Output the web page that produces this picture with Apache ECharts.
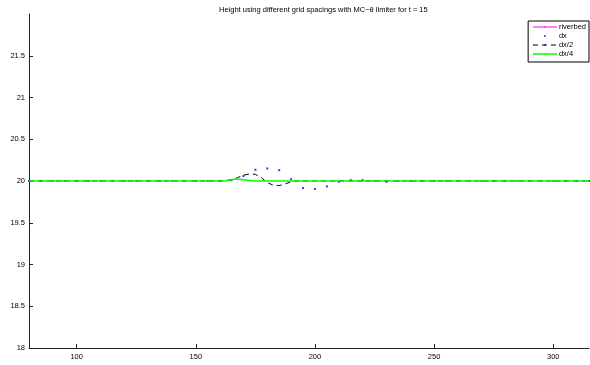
<!DOCTYPE html>
<html><head><meta charset="utf-8">
<script src="https://cdn.jsdelivr.net/npm/echarts@6/dist/echarts.min.js"></script>
<style>html,body{margin:0;padding:0;background:#fff}#c{width:590px;height:365px}</style>
</head><body><div id="c"></div>
<script>
const titleText = 'Height using different grid spacings with MC\u2212\u03b8 limiter for t = 15';
const seriesNames = ['riverbed', 'dx', 'dx/2', 'dx/4'];
const xTicks = [100, 150, 200, 250, 300];
const yTicks = [18, 18.5, 19, 19.5, 20, 20.5, 21, 21.5];

const riverbedX = [80, 315];
const riverbedY = [0, 0];

const dxX = [80,85,90,95,100,105,110,115,120,125,130,135,140,145,150,155,160,165,170,175,180,185,190,195,200,205,210,215,220,225,230,235,240,245,250,255,260,265,270,275,280,285,290,295,300,305,310,315];
const dxY = [20,20,20,20,20,20,20,20,20,20,20,20,20,20,20,20,20,20.01,20.06,20.135,20.15,20.13,20.02,19.915,19.905,19.935,19.99,20.01,20.01,20,19.99,20,20,20,20,20,20,20,20,20,20,20,20,20,20,20,20,20];

const dx2X = [80,160,162.5,165,167.5,170,172.5,175,177.5,180,182.5,185,187.5,190,192.5,195,197.5,200,315];
const dx2Y = [20,20,20.005,20.015,20.04,20.07,20.085,20.08,20.04,19.98,19.95,19.945,19.965,19.99,20.0,20.003,20,20,20];

const dx4X = [80,161.25,162.5,163.75,165,166.25,167.5,168.75,170,171.25,172.5,173.75,175,315];
const dx4Y = [20,20,20.004,20.01,20.016,20.02,20.022,20.02,20.015,20.01,20.005,20.002,20,20];

const zip = (a, b) => a.map((v, i) => [v, b[i]]);
const font = 'Liberation Sans, Arial, Helvetica, sans-serif';

const chart = echarts.init(document.getElementById('c'), null, {renderer: 'canvas'});
chart.setOption({
  animation: false,
  backgroundColor: '#fff',
  title: {
    text: titleText, left: 214, top: 1,
    textStyle: {fontSize: 7.5, fontWeight: 'normal', color: '#000', fontFamily: font}
  },
  grid: {left: 29, right: 1, top: 14, bottom: 17, containLabel: false},
  legend: {
    right: 1, top: 21, orient: 'vertical',
    data: [
      {name: 'riverbed', lineStyle: {width: 1}},
      {name: 'dx', icon: 'circle'},
      {name: 'dx/2', lineStyle: {width: 1}},
      {name: 'dx/4', lineStyle: {width: 1.5}}
    ],
    itemWidth: 24, itemHeight: 2, itemGap: 1,
    padding: [2, 3, 4, 4],
    borderColor: '#000', borderWidth: 1, backgroundColor: '#fff', borderRadius: 0,
    textStyle: {fontSize: 7.5, color: '#000', fontFamily: font, lineHeight: 8, padding: [0,0,0,-3]}
  },
  xAxis: {
    type: 'value', min: 80, max: 315,
    axisLine: {show: true, onZero: false, lineStyle: {color: '#222', width: 1}},
    axisTick: {show: true, inside: true, length: 4, customValues: xTicks, lineStyle: {color: '#222'}},
    axisLabel: {customValues: xTicks, fontSize: 7.5, color: '#000', fontFamily: font, margin: 5},
    splitLine: {show: false}
  },
  yAxis: {
    type: 'value', min: 18, max: 22,
    axisLine: {show: true, onZero: false, lineStyle: {color: '#222', width: 1}},
    axisTick: {show: true, inside: true, length: 4, customValues: yTicks, lineStyle: {color: '#222'}},
    axisLabel: {customValues: yTicks, fontSize: 7.5, color: '#000', fontFamily: font, margin: 4},
    splitLine: {show: false}
  },
  series: [
    {name: 'riverbed', type: 'line', data: zip(riverbedX, riverbedY), symbol: 'none',
     lineStyle: {color: '#ff00ff', width: 1}, itemStyle: {color: '#ff00ff'}, clip: true},
    {name: 'dx', type: 'scatter', data: zip(dxX, dxY), symbol: 'rect', symbolSize: 2,
     itemStyle: {color: '#0000ff'}, z: 2},
    {name: 'dx/2', type: 'line', data: zip(dx2X, dx2Y), symbol: 'none',
     lineStyle: {color: '#000', width: 1, type: [5, 4]}, itemStyle: {color: '#000'}, z: 3},
    {name: 'dx/4', type: 'line', data: zip(dx4X, dx4Y), symbol: 'none',
     lineStyle: {color: '#00ff00', width: 1.5}, itemStyle: {color: '#00ff00'}, z: 4}
  ]
});
</script></body></html>
